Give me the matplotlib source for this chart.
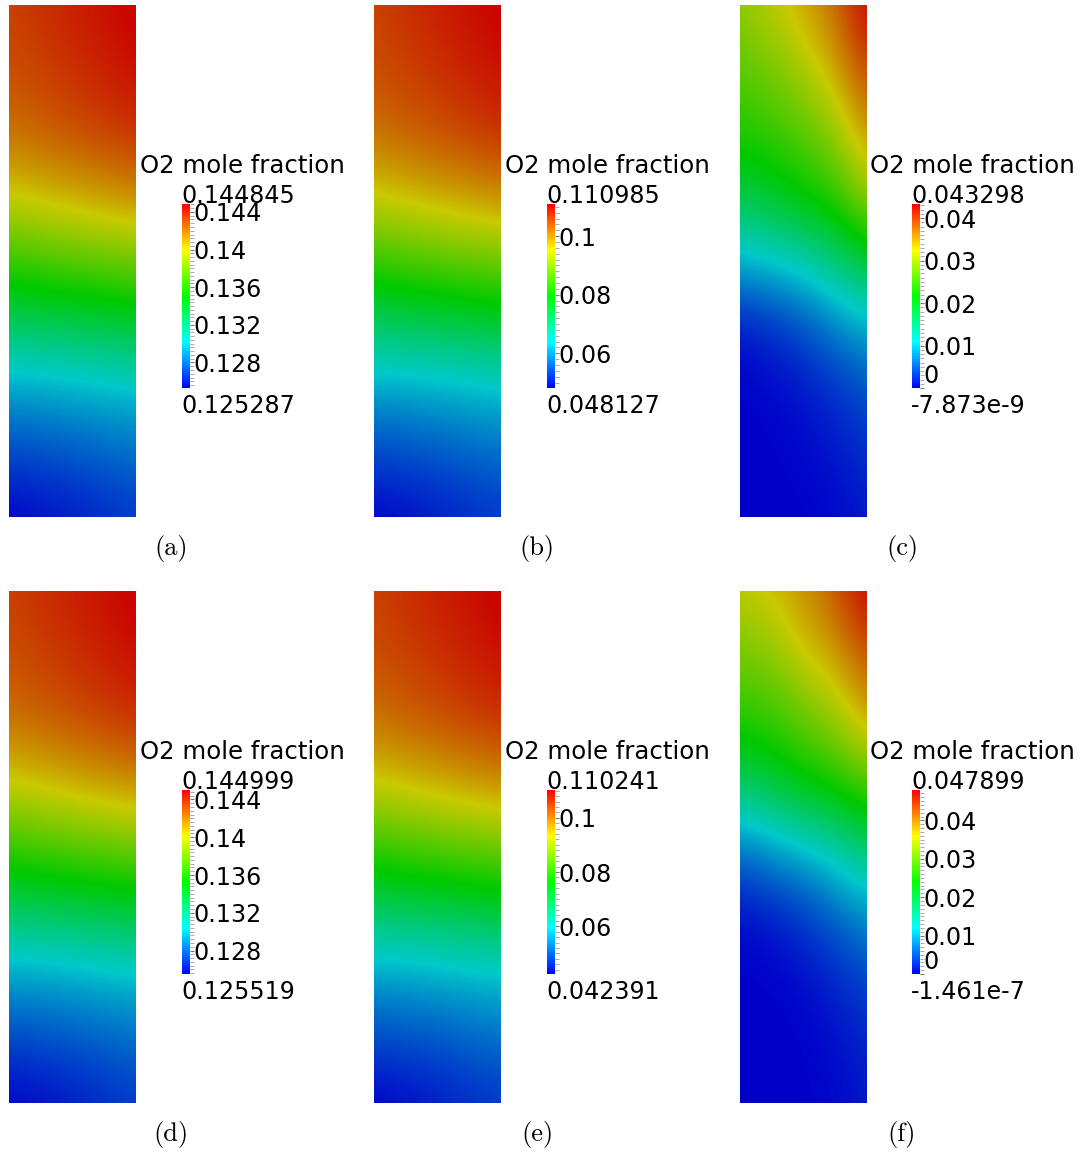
import numpy as np
import matplotlib
matplotlib.use("Agg")
import matplotlib.pyplot as plt
from matplotlib.colors import ListedColormap, Normalize, hsv_to_rgb
from matplotlib.cm import ScalarMappable
from matplotlib.ticker import MultipleLocator

# ---------------- data ----------------
panel_labels = ["(a)", "(b)", "(c)", "(d)", "(e)", "(f)"]
colorbar_title = "O2 mole fraction"

range_min = [0.125287, 0.048127, -7.873e-9, 0.125519, 0.042391, -1.461e-7]
range_max = [0.144845, 0.110985, 0.043298, 0.144999, 0.110241, 0.047899]
range_min_text = ["0.125287", "0.048127", "-7.873e-9", "0.125519", "0.042391", "-1.461e-7"]
range_max_text = ["0.144845", "0.110985", "0.043298", "0.144999", "0.110241", "0.047899"]

tick_a = [0.128, 0.132, 0.136, 0.14, 0.144]
tick_b = [0.06, 0.08, 0.1]
tick_c = [0.0, 0.01, 0.02, 0.03, 0.04]
tick_label_a = ["0.128", "0.132", "0.136", "0.14", "0.144"]
tick_label_b = ["0.06", "0.08", "0.1"]
tick_label_c = ["0", "0.01", "0.02", "0.03", "0.04"]
panel_ticks = [tick_a, tick_b, tick_c, tick_a, tick_b, tick_c]
panel_tick_labels = [tick_label_a, tick_label_b, tick_label_c,
                     tick_label_a, tick_label_b, tick_label_c]
minor_step = [0.0004, 0.002, 0.001, 0.0004, 0.002, 0.001]

# field: fraction of the colour range,
# rows top->bottom (9 rows), columns left->right (5 columns)
field_uniform = [
    [0.92, 0.94, 0.96, 0.98, 1.00],
    [0.90, 0.92, 0.94, 0.96, 0.98],
    [0.86, 0.88, 0.90, 0.92, 0.94],
    [0.75, 0.77, 0.79, 0.81, 0.83],
    [0.57, 0.59, 0.61, 0.625, 0.64],
    [0.375, 0.39, 0.40, 0.415, 0.435],
    [0.20, 0.205, 0.215, 0.225, 0.235],
    [0.09, 0.10, 0.11, 0.125, 0.14],
    [0.00, 0.015, 0.03, 0.05, 0.067],
]
field_c = [
    [0.68, 0.735, 0.79, 0.87, 1.00],
    [0.61, 0.65, 0.71, 0.79, 0.92],
    [0.54, 0.565, 0.61, 0.685, 0.82],
    [0.41, 0.45, 0.505, 0.55, 0.70],
    [0.22, 0.245, 0.285, 0.35, 0.435],
    [0.03, 0.06, 0.10, 0.16, 0.22],
    [0.00, 0.01, 0.03, 0.06, 0.10],
    [0.00, 0.00, 0.01, 0.03, 0.06],
    [0.00, 0.00, 0.00, 0.01, 0.03],
]
field_f = [
    [0.74, 0.765, 0.82, 0.89, 1.00],
    [0.64, 0.67, 0.755, 0.80, 0.90],
    [0.55, 0.57, 0.625, 0.69, 0.80],
    [0.375, 0.43, 0.495, 0.53, 0.61],
    [0.15, 0.20, 0.235, 0.29, 0.37],
    [0.02, 0.04, 0.08, 0.13, 0.19],
    [0.00, 0.00, 0.02, 0.05, 0.09],
    [0.00, 0.00, 0.00, 0.02, 0.05],
    [0.00, 0.00, 0.00, 0.01, 0.03],
]
panel_fields = [field_uniform, field_uniform, field_c,
                field_uniform, field_uniform, field_f]

# ---------------- colormaps (blue -> red rainbow in HSV) ----------------
t = np.linspace(0, 1, 256)
def rainbow(value):
    hsv = np.stack([(2.0 / 3.0) * (1 - t), np.ones_like(t), np.full_like(t, value)], axis=1)
    return ListedColormap(hsv_to_rgb(hsv))
cmap_bar = rainbow(1.0)
cmap_field = rainbow(0.79)

# ---------------- layout (pixels) ----------------
W, H = 1084, 1152
fig = plt.figure(figsize=(W / 100, H / 100), dpi=100)
fig.patch.set_facecolor("white")

def box(x, y, w, h):
    return [x / W, 1 - (y + h) / H, w / W, h / H]

col_img_x = [9, 374, 740]
col_bar_x = [182, 547, 912]
col_cap_x = [171, 537, 902]
row_dy = [0, 586]
img_w, img_h, img_top = 127, 512, 5
bar_w, bar_top, bar_h = 8, 204, 184

fs_num = 17.1
fs_title = 17.6
for i in range(6):
    r, c = divmod(i, 3)
    dy = row_dy[r]
    vmin, vmax = range_min[i], range_max[i]
    frac = np.array(panel_fields[i], dtype=float)
    values = vmin + frac * (vmax - vmin)
    nr, nc = values.shape
    ax = fig.add_axes(box(col_img_x[c], img_top + dy, img_w, img_h))
    hx = 0.5 / (nc - 1)
    hy = 0.5 / (nr - 1)
    ax.imshow(values, cmap=cmap_field, norm=Normalize(vmin, vmax),
              interpolation="bicubic", interpolation_stage="data",
              extent=(-hx, 1 + hx, 1 + hy, -hy), aspect="auto", origin="upper")
    ax.set_xlim(0, 1)
    ax.set_ylim(1, 0)
    ax.axis("off")

    cax = fig.add_axes(box(col_bar_x[c], bar_top + dy, bar_w, bar_h))
    sm = ScalarMappable(norm=Normalize(vmin, vmax), cmap=cmap_bar)
    cb = fig.colorbar(sm, cax=cax)
    cb.outline.set_visible(False)
    cb.set_ticks(panel_ticks[i])
    cb.set_ticklabels(panel_tick_labels[i])
    cax.yaxis.set_minor_locator(MultipleLocator(minor_step[i]))
    cax.tick_params(axis="y", which="major", length=3.2, width=0.8,
                    color="#777777", pad=-0.6, labelsize=fs_num)
    cax.tick_params(axis="y", which="minor", length=2.8, width=0.7,
                    color="#aaaaaa")
    for tv, lab in zip(panel_ticks[i], cax.get_yticklabels()):
        lab.set_fontfamily("DejaVu Sans")
        if (tv - vmin) / (vmax - vmin) < 0.05:
            lab.set_verticalalignment("bottom")

    fig.text((col_bar_x[c] - 42) / W, 1 - (173 + dy) / H, colorbar_title,
             fontsize=fs_title, ha="left", va="baseline", family="DejaVu Sans")
    fig.text((col_bar_x[c] - 1) / W, 1 - (203 + dy) / H, range_max_text[i],
             fontsize=fs_num, ha="left", va="baseline", family="DejaVu Sans")
    fig.text((col_bar_x[c] - 1) / W, 1 - (413 + dy) / H, range_min_text[i],
             fontsize=fs_num, ha="left", va="baseline", family="DejaVu Sans")
    fig.text(col_cap_x[c] / W, 1 - (548 + dy) / H, panel_labels[i],
             fontsize=19, ha="center", va="center", family="cmr10")

fig.savefig("out.png", dpi=100, facecolor="white")
